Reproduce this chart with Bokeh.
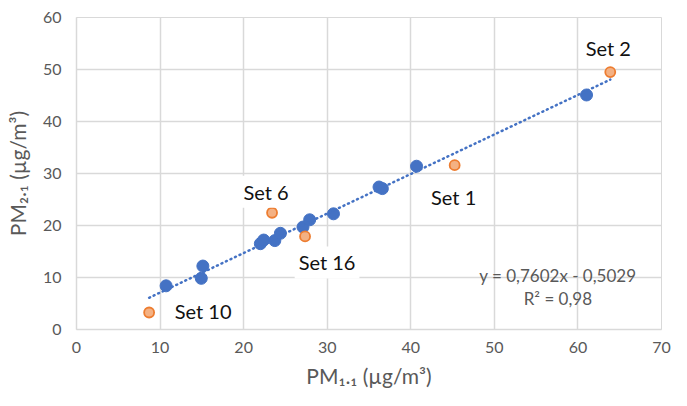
from bokeh.plotting import figure
from bokeh.models import Label, FixedTicker, Range1d
from bokeh.embed import file_html
from bokeh.resources import INLINE

# ---- data ----
blue_x = [10.72, 14.93, 15.12, 22.0, 22.4, 23.73, 24.4, 27.1, 27.9, 30.75, 36.2, 36.6, 40.69, 61.03]
blue_y = [8.4, 9.84, 12.2, 16.5, 17.2, 17.1, 18.5, 19.7, 21.1, 22.25, 27.4, 27.1, 31.4, 45.1]
orange_x = [45.25, 63.87, 23.4, 8.69, 27.35]
orange_y = [31.6, 49.5, 22.45, 3.27, 17.9]
orange_names = ["Set 1", "Set 2", "Set 6", "Set 10", "Set 16"]
slope = 0.7602
intercept = -0.5029
r2_text = "0,98"
x_ticks = [0, 10, 20, 30, 40, 50, 60, 70]
y_ticks = [0, 10, 20, 30, 40, 50, 60]

FONT = "Lato"
GREY = "#595959"
GRID = "#D9D9D9"

p = figure(width=671, height=390, output_backend="svg", toolbar_location=None,
           x_range=Range1d(0, 70), y_range=Range1d(0, 60),
           min_border_left=76, min_border_right=10, min_border_top=17, min_border_bottom=56)

p.outline_line_color = GRID
p.xgrid.grid_line_color = GRID
p.ygrid.grid_line_color = GRID
p.xgrid.grid_line_width = 1.5
p.ygrid.grid_line_width = 1.5
p.xgrid.ticker = FixedTicker(ticks=x_ticks)
p.ygrid.ticker = FixedTicker(ticks=y_ticks)

for ax in (p.xaxis[0], p.yaxis[0]):
    ax.axis_line_color = GRID
    ax.axis_line_width = 1.5
    ax.major_tick_line_color = None
    ax.minor_tick_line_color = None
    ax.major_tick_out = 0
    ax.major_label_text_font = FONT
    ax.major_label_text_font_size = "16px"
    ax.major_label_text_color = GREY
    ax.axis_label_text_font = FONT
    ax.axis_label_text_font_size = "21px"
    ax.axis_label_text_font_style = "normal"
    ax.axis_label_text_color = GREY

p.xaxis[0].ticker = FixedTicker(ticks=x_ticks)
p.yaxis[0].ticker = FixedTicker(ticks=y_ticks)
p.xaxis[0].axis_label = "PM₁.₁ (µg/m³)"
p.yaxis[0].axis_label = "PM₂.₁ (µg/m³)"
p.xaxis[0].major_label_standoff = 12
p.xaxis[0].axis_label_standoff = 7
p.yaxis[0].major_label_standoff = 15
p.yaxis[0].axis_label_standoff = 10

# trendline from the equation, spanning the data
all_x = blue_x + orange_x
tx = [min(all_x), max(all_x)]
ty = [slope * v + intercept for v in tx]

p.scatter(blue_x, blue_y, size=12, fill_color="#4472C4", line_color="#4472C4", line_width=1)
p.line(tx, ty, line_color="#4472C4", line_width=2.5, line_dash="1 4", line_cap="round")
p.scatter(orange_x, orange_y, size=10, fill_color="#F4B183", line_color="#ED7D31", line_width=1.8)

# data labels
offsets = {"Set 1": (-1, -32), "Set 2": (-2, 24), "Set 6": (-6, 21), "Set 10": (54, 1), "Set 16": (22, -26)}
for name, x, y in zip(orange_names, orange_x, orange_y):
    dx, dy = offsets[name]
    p.add_layout(Label(x=x, y=y, x_offset=dx, y_offset=dy, text=name,
                       text_align="center", text_baseline="middle",
                       text_font=FONT, text_font_size="20px", text_color="#111111",
                       background_fill_color="white", padding=4))

eq = "y = " + f"{slope:.4f}".replace(".", ",") + "x - " + f"{-intercept:.4f}".replace(".", ",")
p.add_layout(Label(x=57.6, y=10.3, text=eq, text_align="center", text_baseline="middle",
                   text_font=FONT, text_font_size="17px", text_color=GREY))
p.add_layout(Label(x=57.6, y=5.96, text="R² = " + r2_text, text_align="center", text_baseline="middle",
                   text_font=FONT, text_font_size="17px", text_color=GREY))

open("out.html", "w").write(file_html(p, INLINE))
